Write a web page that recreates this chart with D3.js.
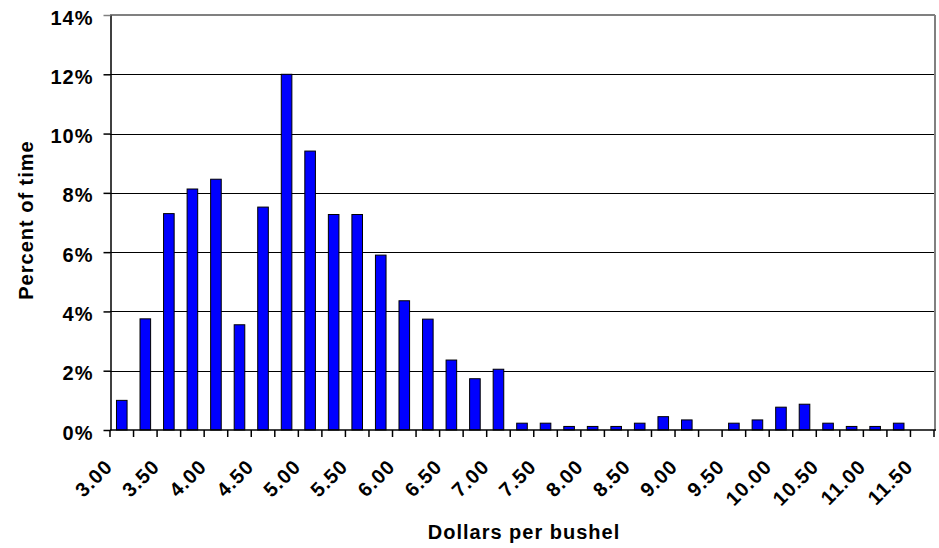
<!DOCTYPE html>
<html>
<head>
<meta charset="utf-8">
<script src="https://cdn.jsdelivr.net/npm/d3@7"></script>
<style>
    body { margin: 0; background: #fff; }
    text {
        font-family: Arial, 'Liberation Sans', sans-serif;
        font-weight: 700;
        font-size: 20px;
        letter-spacing: 1px;
        fill: #000;
    }
</style>
</head>
<body>
<div id="chart"></div>
<script>
// price buckets, dollars per bushel
let categories = ["3.00", "3.25", "3.50", "3.75", "4.00", "4.25", "4.50", "4.75", "5.00", "5.25",
                  "5.50", "5.75", "6.00", "6.25", "6.50", "6.75", "7.00", "7.25", "7.50", "7.75",
                  "8.00", "8.25", "8.50", "8.75", "9.00", "9.25", "9.50", "9.75", "10.00", "10.25",
                  "10.50", "10.75", "11.00", "11.25", "11.50"];
// percent of time in each bucket
let percentOfTime = [1.0, 3.75, 7.3, 8.13, 8.46, 3.55, 7.52, 12.0, 9.41, 7.27,
                     7.27, 5.9, 4.36, 3.74, 2.36, 1.73, 2.05, 0.23, 0.23, 0.12,
                     0.12, 0.12, 0.23, 0.45, 0.34, 0, 0.23, 0.34, 0.77, 0.87,
                     0.23, 0.12, 0.12, 0.23, 0];
let xTickLabels = ["3.00", "3.50", "4.00", "4.50", "5.00", "5.50", "6.00", "6.50", "7.00", "7.50",
                   "8.00", "8.50", "9.00", "9.50", "10.00", "10.50", "11.00", "11.50"];
let yTicks = [0, 2, 4, 6, 8, 10, 12, 14];

var width = 939;
var height = 548;
var plotLeft = 110, plotRight = 934, plotTop = 15, plotBottom = 430;

let svg = d3.select("#chart").append("svg").attr("width", width).attr("height", height);

let x = d3.scaleBand().domain(categories).range([plotLeft, plotRight]).paddingInner(0.55).paddingOuter(0.275);
let y = d3.scaleLinear().domain([0, 14]).range([plotBottom, plotTop]);

// gridlines
svg.append("g").selectAll("line").data(yTicks.filter(t => t > 0 && t < 14)).join("line")
    .attr("x1", plotLeft).attr("x2", plotRight)
    .attr("y1", d => Math.round(y(d)) + 0.5).attr("y2", d => Math.round(y(d)) + 0.5)
    .attr("stroke", "#000").attr("stroke-width", 1);

// plot border top / right (gray)
svg.append("line").attr("x1", plotLeft).attr("x2", plotRight + 1).attr("y1", plotTop).attr("y2", plotTop)
    .attr("stroke", "#808080").attr("stroke-width", 2);
svg.append("line").attr("x1", plotRight + 1).attr("x2", plotRight + 1).attr("y1", plotTop).attr("y2", plotBottom)
    .attr("stroke", "#808080").attr("stroke-width", 2);

// bars
let barData = categories.map((c, i) => ({cat: c, value: percentOfTime[i]})).filter(d => d.value > 0);
svg.append("g").selectAll("rect").data(barData).join("rect")
    .attr("x", d => x(d.cat))
    .attr("width", x.bandwidth())
    .attr("y", d => y(d.value))
    .attr("height", d => plotBottom - y(d.value))
    .attr("fill", "#0000ff")
    .attr("stroke", "#000")
    .attr("stroke-width", 1);

// y axis
let yAxis = svg.append("g").attr("transform", `translate(${plotLeft + 0.5},0)`)
    .call(d3.axisLeft(y).tickValues(yTicks).tickSize(7).tickSizeOuter(0).tickFormat(d => d + "%"));
yAxis.select(".domain").attr("stroke", "#000").attr("stroke-width", 1.5);
yAxis.selectAll(".tick line").attr("stroke", "#000").attr("stroke-width", 1.5);
yAxis.selectAll(".tick text").attr("x", -17).attr("dy", "0.45em")
    .style("font-size", "20px").style("font-family", "Arial, 'Liberation Sans', sans-serif");
yAxis.selectAll(".tick").filter(d => d === 14).select("line").attr("stroke", "#808080");

// x axis (ticks between categories, like Excel)
let half = (x.step() - x.bandwidth()) / 2;
let bounds = categories.map(c => x(c) - half).concat([plotRight]);
svg.append("line").attr("x1", plotLeft).attr("x2", plotRight + 2).attr("y1", plotBottom).attr("y2", plotBottom)
    .attr("stroke", "#000").attr("stroke-width", 1.5);
svg.append("g").selectAll("line").data(bounds).join("line")
    .attr("x1", d => d).attr("x2", d => d)
    .attr("y1", plotBottom).attr("y2", plotBottom + 7)
    .attr("stroke", "#000").attr("stroke-width", 1.5);

svg.append("g").selectAll("text").data(xTickLabels).join("text")
    .attr("text-anchor", "end")
    .attr("transform", d => `translate(${x(d) + x.bandwidth() / 2 - 8},${plotBottom + 38}) rotate(-45)`)
    .text(d => d);

// axis titles
svg.append("text").attr("x", (plotLeft + plotRight) / 2 + 2).attr("y", 539)
    .attr("text-anchor", "middle").text("Dollars per bushel");
svg.append("text").attr("transform", `translate(33,220) rotate(-90)`)
    .attr("text-anchor", "middle").text("Percent of time");
</script>
</body>
</html>
